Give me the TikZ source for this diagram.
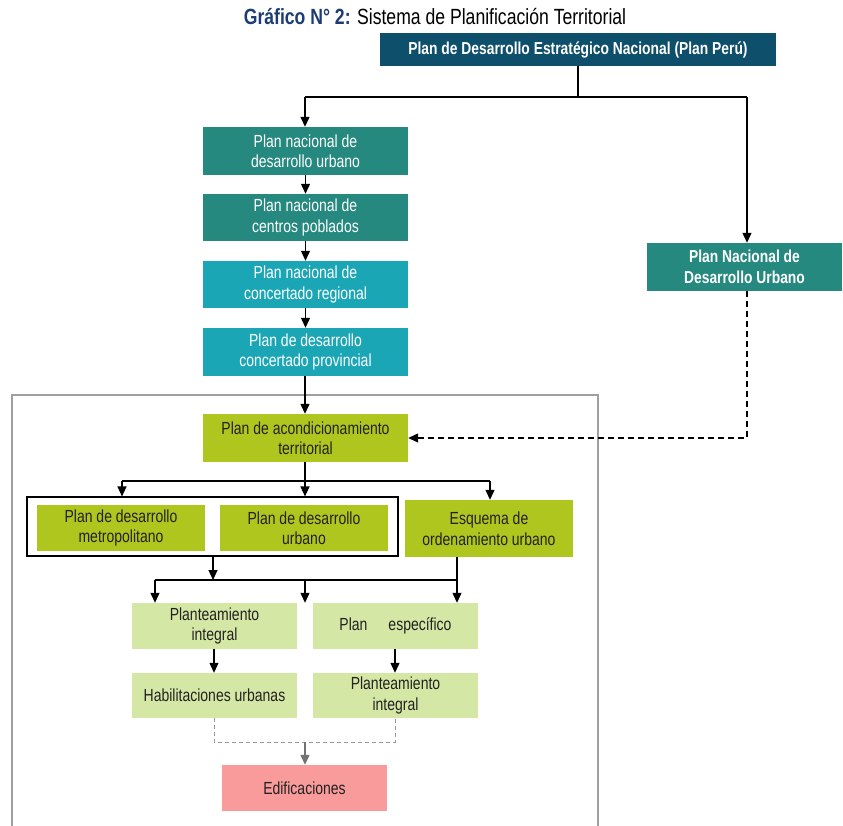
\documentclass[tikz,border=0pt]{standalone}
\usepackage{fontspec}
\setmainfont{Liberation Sans}[FakeStretch=0.8]
\usetikzlibrary{arrows.meta,positioning}
\definecolor{navy}{HTML}{0E4F6C}
\definecolor{titleblue}{HTML}{1B3C74}
\definecolor{tealb}{HTML}{25897F}
\definecolor{cyanb}{HTML}{1BA6B6}
\definecolor{oliveb}{HTML}{AFC61F}
\definecolor{lightg}{HTML}{D5E7A4}
\definecolor{pinkb}{HTML}{F99B9B}
\definecolor{txtdark}{HTML}{222222}
\begin{document}
\begin{tikzpicture}[x=1pt,y=-1pt,
  boxbase/.style={draw=none,align=center,inner sep=0pt,font=\fontsize{17.5}{20.5}\selectfont},
  tealbox/.style={boxbase,fill=tealb,text=white},
  cyanbox/.style={boxbase,fill=cyanb,text=white},
  olivebox/.style={boxbase,fill=oliveb,text=txtdark},
  lgbox/.style={boxbase,fill=lightg,text=txtdark},
  conn/.style={line width=1.2pt,black},
  arr/.style={conn,-{Triangle[length=10pt,width=9pt]}},
  dasharr/.style={arr,dashed,dash pattern=on 6pt off 4pt},
  graydash/.style={line width=1pt,draw=gray!80,dashed,dash pattern=on 4pt off 3pt}
]
\useasboundingbox (0,0) rectangle (843,826);
\fill[white] (0,0) rectangle (843,826);

% title
\node[anchor=center,inner sep=0pt,font=\fontsize{22}{24}\selectfont] (title) at (435,17)
  {\textcolor{titleblue}{\textbf{Gráfico N° 2:}} Sistema de Planificación Territorial};

% frames
\node[draw=gray!75,line width=1.8pt,minimum width=586pt,minimum height=440pt,inner sep=0pt] (bigframe) at (305,615) {};
\node[draw=black,line width=1.1pt,minimum width=371pt,minimum height=59pt,inner sep=0pt,fill=white] (wframe) at (212.5,526.5) {};

% nodes
\node[boxbase,fill=navy,text=white,minimum width=396pt,minimum height=33pt,font=\bfseries\fontsize{17.3}{20}\selectfont] (top) at (578,49.5) {Plan de Desarrollo Estratégico Nacional (Plan Perú)};
\node[tealbox,minimum width=205pt,minimum height=48pt] (b1) at (305.5,151) {Plan nacional de\\desarrollo urbano};
\node[tealbox,minimum width=205pt,minimum height=47pt] (b2) at (305.5,217.5) {Plan nacional de\\centros poblados};
\node[cyanbox,minimum width=205pt,minimum height=47pt] (b3) at (305.5,284.5) {Plan nacional de\\concertado regional};
\node[cyanbox,minimum width=205pt,minimum height=48pt] (b4) at (305.5,352) {Plan de desarrollo\\concertado provincial};
\node[tealbox,minimum width=195pt,minimum height=48pt,font=\bfseries\fontsize{17.3}{20.5}\selectfont] (rb) at (744.5,267) {Plan Nacional de\\Desarrollo Urbano};
\node[olivebox,minimum width=205pt,minimum height=48pt] (pat) at (305.5,438) {Plan de acondicionamiento\\territorial};
\node[olivebox,minimum width=168pt,minimum height=46pt] (pdm) at (121,528) {Plan de desarrollo\\metropolitano};
\node[olivebox,minimum width=168pt,minimum height=46pt] (pdu) at (304,528) {Plan de desarrollo\\urbano};
\node[olivebox,minimum width=168pt,minimum height=57pt] (esq) at (489,528.5) {Esquema de\\ordenamiento urbano};
\node[lgbox,minimum width=165pt,minimum height=46pt] (pi) at (214.5,626) {Planteamiento\\integral};
\node[lgbox,minimum width=165pt,minimum height=46pt] (pe) at (395.5,626) {Plan\hspace{1.2em}específico};
\node[lgbox,minimum width=165pt,minimum height=45pt] (hu) at (214.5,695.5) {Habilitaciones urbanas};
\node[lgbox,minimum width=165pt,minimum height=45pt] (pi2) at (395.5,695.5) {Planteamiento\\integral};
\node[boxbase,fill=pinkb,text=txtdark,minimum width=165pt,minimum height=46pt] (ed) at (304.5,788) {Edificaciones};

% coordinates
\coordinate (j1) at (578,97);
\coordinate (j1l) at (305,97);
\coordinate (j1r) at (747,97);
\coordinate (d1) at (747,438);
\coordinate (j2) at (305,481);
\coordinate (j2l) at (122,481);
\coordinate (j2r) at (490,481);
\coordinate (j3) at (213,580);
\coordinate (j3l) at (155,580);
\coordinate (j3m) at (305,580);
\coordinate (j3r) at (457,580);
\coordinate (g1) at (214,742);
\coordinate (g2) at (395,742);
\coordinate (g3) at (305,742);

% connectors
\draw[conn] (top.south -| j1) -- (j1);
\draw[conn] (j1l) -- (j1r);
\draw[arr] (j1l) -- (b1.north -| j1l);
\draw[arr] (j1r) -- (rb.north -| j1r);
\draw[arr] (b1) -- (b2);
\draw[arr] (b2) -- (b3);
\draw[arr] (b3) -- (b4);
\draw[arr] (b4.south -| j1l) -- (pat.north -| j1l);
\draw[dasharr] (rb.south -| d1) -- (d1) -- (pat.east);
\draw[conn] (pat.south -| j2) -- (j2);
\draw[conn] (j2l) -- (j2r);
\draw[arr] (j2l) -- (wframe.north -| j2l);
\draw[arr] (j2) -- (wframe.north -| j2);
\draw[arr] (j2r) -- (esq.north -| j2r);
\draw[arr] (wframe.south -| j3) -- (j3);
\draw[conn] (j3l) -- (j3r);
\draw[arr] (esq.south -| j3r) -- (pe.north -| j3r);
\draw[arr] (j3l) -- (pi.north -| j3l);
\draw[arr] (j3m) -- (pi.north -| j3m);
\draw[arr] (pi.south -| g1) -- (hu.north -| g1);
\draw[arr] (pe.south -| g2) -- (pi2.north -| g2);
\draw[graydash] (hu.south -| g1) -- (g1) -- (g2) -- (pi2.south -| g2);
\draw[line width=1.2pt,draw=gray!90!black,-{Triangle[length=10pt,width=9pt]}] (g3) -- (ed.north -| g3);
\end{tikzpicture}
\end{document}
